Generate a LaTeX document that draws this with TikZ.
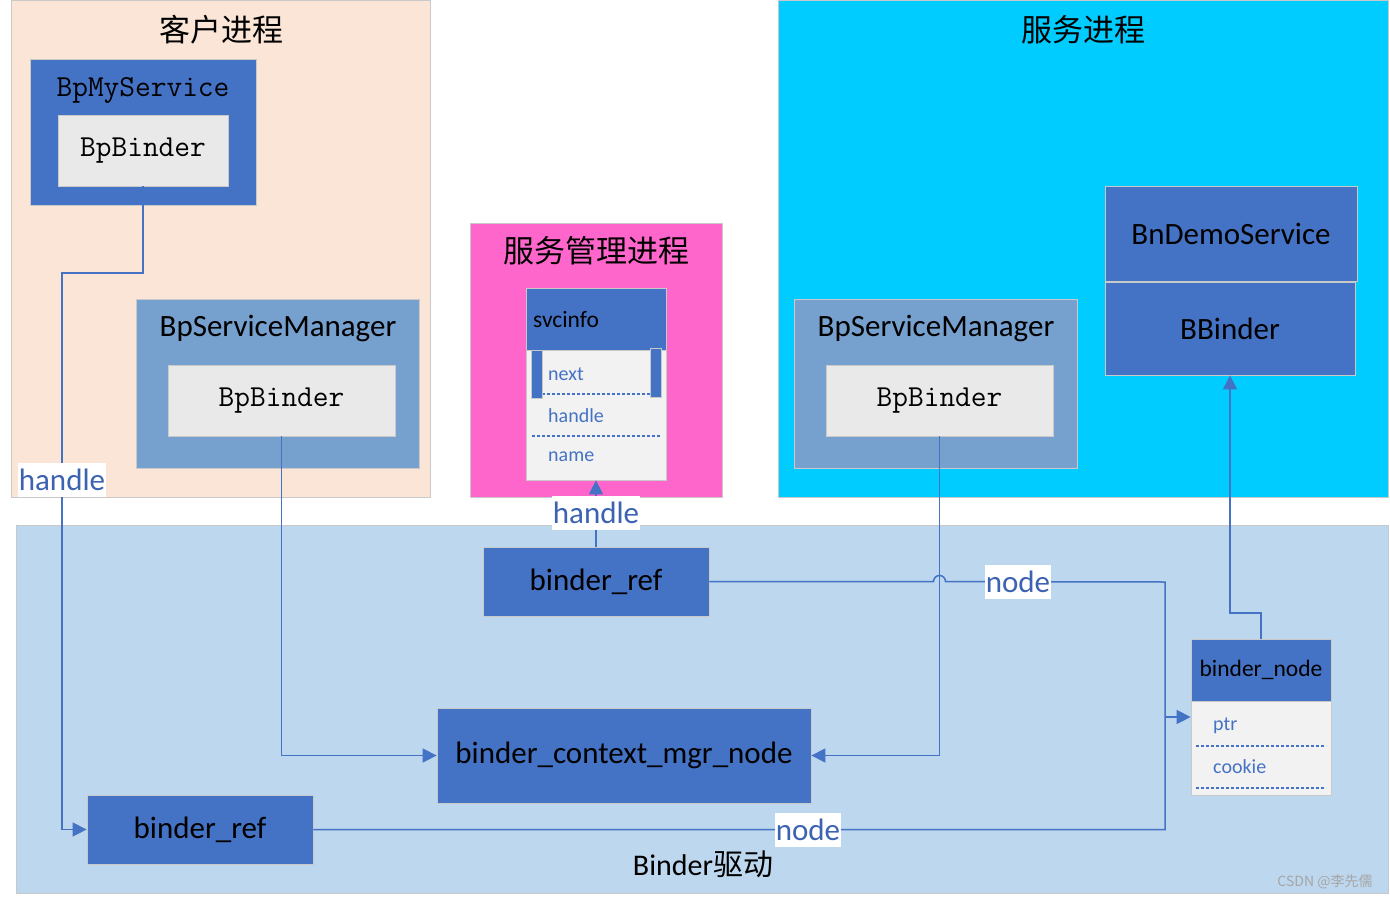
\documentclass[tikz,border=0pt]{standalone}
\usepackage{fontspec}
\setmainfont{Carlito}
\newfontfamily\cjk{Noto Sans CJK SC}
\usetikzlibrary{positioning}
\usetikzlibrary{arrows.meta}
\definecolor{peach}{HTML}{FBE5D6}
\definecolor{darkblue}{HTML}{4472C4}
\definecolor{midblue}{HTML}{76A0CD}
\definecolor{lightgray}{HTML}{E9E9E9}
\definecolor{tablegray}{HTML}{F2F2F2}
\definecolor{pinkproc}{HTML}{FF66CC}
\definecolor{cyanproc}{HTML}{00CCFF}
\definecolor{driverblue}{HTML}{BDD7EE}
\definecolor{edgegray}{HTML}{C9C9C9}
\definecolor{textblue}{HTML}{3C63B2}

\begin{document}
\begin{tikzpicture}[
            x = 1pt, y = -1pt, % pixel grid, y downwards
            link/.style = {draw=darkblue, line width=1.5pt},
            arr/.style = {-{Triangle[length=14pt,width=14pt]}}, % arrow head style
            box/.style = {draw=edgegray, line width=0.8pt, inner sep=0pt},
            big/.style = {font=\fontsize{31}{36}\selectfont},
            bigcjk/.style = {font=\cjk\fontsize{31}{36}\selectfont},
            mono/.style = {font=\ttfamily\fontsize{30.5}{36}\selectfont},
            small/.style = {font=\fontsize{23.5}{28}\selectfont},
            field/.style = {font=\fontsize{20}{24}\selectfont, text=darkblue, anchor=west, inner sep=0pt},
            sep/.style = {draw=darkblue, line width=1.2pt, dash pattern=on 3pt off 2pt},
            tag/.style = {big, fill=white, text=textblue, inner xsep=1pt, inner ysep=0pt, minimum height=34pt}
            ]

        \useasboundingbox (0,0) rectangle (1390,900);

	% client process
        \node[box, fill=peach, minimum width=419pt, minimum height=497pt] (CP) at (220.5,248.5) {};
        \node[bigcjk] (CPt) at (221,30) {客户进程};

        \node[box, fill=darkblue, minimum width=226pt, minimum height=146pt] (MS) at (143,132) {};
        \node[mono] (MSt) at (143,90) {BpMyService};
        \node[box, fill=lightgray, mono, minimum width=170pt, minimum height=71pt] (B1) at (143,150.5) {BpBinder};

        \node[box, fill=midblue, minimum width=283pt, minimum height=169pt] (SMc) at (277.5,383.5) {};
        \node[big] (SMct) at (278,328) {BpServiceManager};
        \node[box, fill=lightgray, mono, minimum width=227pt, minimum height=71pt] (B2) at (281.5,400.5) {BpBinder};

	% service manager process
        \node[box, fill=pinkproc, minimum width=252pt, minimum height=274pt] (SP) at (596,360) {};
        \node[bigcjk] (SPt) at (596,251) {服务管理进程};

        \node[box, fill=darkblue, minimum width=140pt, minimum height=62pt] (SV) at (596,319) {};
        \node[small, anchor=west, inner sep=0pt] (SVt) at (533,319) {svcinfo};
        \node[box, fill=tablegray, minimum width=140pt, minimum height=130pt] (SVb) at (596,415) {};
        \draw[sep] (532,394) -- (660,394);
        \draw[sep] (532,436) -- (660,436);
        \node[box, fill=darkblue, minimum width=11pt, minimum height=48pt] (bar1) at (536.5,374) {};
        \node[box, fill=darkblue, minimum width=11pt, minimum height=49pt] (bar2) at (655.5,372.5) {};
        \node[field] (f1) at (548,374) {next};
        \node[field] (f2) at (548,416) {handle};
        \node[field] (f3) at (548,457) {name};

	% service process
        \node[box, fill=cyanproc, minimum width=610pt, minimum height=497pt] (SE) at (1083,248.5) {};
        \node[bigcjk] (SEt) at (1083,30) {服务进程};

        \node[box, fill=midblue, minimum width=283pt, minimum height=169pt] (SMs) at (935.5,383.5) {};
        \node[big] (SMst) at (936,328) {BpServiceManager};
        \node[box, fill=lightgray, mono, minimum width=227pt, minimum height=71pt] (B3) at (939.5,400.5) {BpBinder};

        \node[box, fill=darkblue, big, minimum width=252pt, minimum height=95pt] (DS) at (1231,233.5) {BnDemoService};
        \node[box, fill=darkblue, big, minimum width=250pt, minimum height=93pt] (BB) at (1230,328.5) {BBinder};

	% binder driver
        \node[box, fill=driverblue, minimum width=1372pt, minimum height=368pt] (DR) at (702,709) {};
        \node[font=\fontsize{30}{34}\selectfont] (DRt) at (703,864) {Binder{\cjk 驱动}};

        \node[box, fill=darkblue, big, minimum width=226pt, minimum height=69pt] (BRt) at (596,581.5) {binder\_ref};
        \node[box, fill=darkblue, big, minimum width=374pt, minimum height=95pt] (CM) at (624,755.5) {binder\_context\_mgr\_node};
        \node[box, fill=darkblue, big, minimum width=226pt, minimum height=69pt] (BRb) at (200,829.5) {binder\_ref};

        \node[box, fill=darkblue, small, minimum width=140pt, minimum height=62pt] (BN) at (1261,670) {binder\_node};
        \node[box, fill=tablegray, minimum width=140pt, minimum height=94pt] (BNb) at (1261,748) {};
        \node[field] (g1) at (1213,726) {ptr};
        \node[field] (g2) at (1213,767) {cookie};
        \draw[sep] (1196,746) -- (1326,746);
        \draw[sep] (1196,788) -- (1326,788);

	% links
        \coordinate (c1) at (62,273);
        \coordinate (hop) at (B3.south |- BRt.east);
        \coordinate (j1) at (1165,582);
        \coordinate (j2) at (1165,717);
        \coordinate (k1) at (1230,613);

        \draw[link,arr] (B1.south) |- (c1) |- (BRb.west);
        \draw[link,arr] (B2.south) |- (CM.west);
        \draw[link,arr] (B3.south) |- (CM.east);
        \draw[link,arr] (BRt.north) -- (SVb.south);
        \draw[link] (BRt.east) -- ([xshift=-6pt]hop) arc[start angle=180, end angle=0, radius=6pt] -- (j1) |- (BRb.east);
        \draw[link,arr] (j2) -- (j2 -| BNb.west);
        \draw[link,arr] (BN.north) |- (k1) -- (BB.south);

	% link labels
        \node[tag] (h1) at (62,480) {handle};
        \node[tag] (h2) at (596,513) {handle};
        \node[tag] (n1) at (1018,582) {node};
        \node[tag] (n2) at (808,830) {node};

        \node[font=\cjk\fontsize{14}{16}\selectfont, text=gray!70] (wm) at (1325,882) {CSDN @李先儒};

  \end{tikzpicture}
\end{document}
